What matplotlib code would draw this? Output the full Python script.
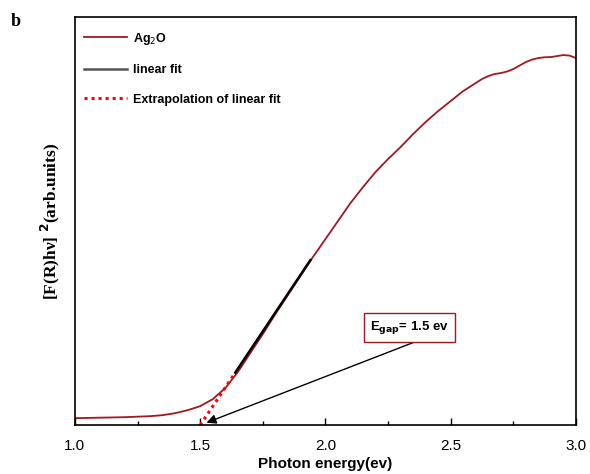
import numpy as np
import matplotlib.pyplot as plt
from matplotlib.patches import FancyArrowPatch

# Kubelka-Munk plot for Ag2O, [F(R)hv]^2 vs photon energy
energy = [1.0, 1.1, 1.2, 1.3, 1.35, 1.4, 1.45, 1.5, 1.55, 1.6, 1.65, 1.7,
          1.75, 1.8, 1.85, 1.9, 1.95, 2.0, 2.05, 2.1, 2.15, 2.2, 2.25, 2.3,
          2.35, 2.4, 2.45, 2.5, 2.55, 2.6, 2.625, 2.65, 2.675, 2.7, 2.725,
          2.75, 2.775, 2.8, 2.825, 2.85, 2.875, 2.9, 2.925, 2.95, 2.975, 3.0]
km_signal = [7, 7.5, 8, 9, 10, 12, 15, 19, 26, 37, 53, 72,
             91, 111, 130, 149, 168, 186, 204, 222, 238, 253, 266, 278,
             291, 303, 314, 324, 334, 342, 346, 349, 351, 352, 353.5,
             356, 359.5, 363, 365.5, 367, 367.8, 368, 369, 370, 369.5, 367]

e_gap = 1.5
fit_slope = 375.0
fit_range = [1.64, 1.94]
extrap_range = [e_gap, 1.64]

font = 'Liberation Sans'
serif = 'Liberation Serif'
curve_col = '#A01820'

fig = plt.figure(figsize=(5.9, 4.74), dpi=100)
ax = fig.add_axes([0.127, 0.103, 0.849, 0.861])

ax.plot(energy, km_signal, color=curve_col, lw=1.3, label='Ag$_2$O')
xf = np.array(fit_range)
ax.plot(xf, fit_slope * (xf - e_gap), color='black', lw=1.8, label='linear fit')
xe = np.array(extrap_range)
ax.plot(xe, fit_slope * (xe - e_gap), color='red', lw=2.2, ls=(0, (1, 1.3)),
        label='Extrapolation of linear fit')
handles, labels = ax.get_legend_handles_labels()

ax.set_xlim(1.0, 3.0)
ax.set_ylim(0, 408)
ax.set_xticks([1.0, 1.5, 2.0, 2.5, 3.0])
ax.set_xticks([1.25, 1.75, 2.25, 2.75], minor=True)
ax.set_yticks([])
ax.tick_params(axis='x', which='major', direction='in', length=5, width=1,
               labelsize=11, pad=10)
ax.tick_params(axis='x', which='minor', direction='in', length=3, width=1)
for lab in ax.get_xticklabels():
    lab.set_fontfamily(font)
for s in ax.spines.values():
    s.set_linewidth(1.2)

ax.set_xlabel('Photon energy(ev)', fontsize=11, fontweight='bold',
              fontfamily=font, labelpad=3)
ax.set_ylabel('[F(R)hν] $^{\\mathbf{2}}$(arb.units)', fontsize=12.5,
              fontweight='bold', fontfamily=serif, labelpad=9)

leg = ax.legend(handles, labels, loc='upper left', frameon=False,
                prop={'family': font, 'weight': 'bold', 'size': 9},
                handlelength=3.5, handletextpad=0.45, labelspacing=1.4,
                borderaxespad=0.9, borderpad=0.2,
                bbox_to_anchor=(-0.01, 1.0))
leg.get_lines()[1].set_color('#555555')

# band-gap annotation
ax.text(2.337, 98, 'E$_{\\mathbf{gap}}$= 1.5 ev', fontsize=9.5, fontweight='bold',
        fontfamily=font, ha='center', va='center',
        bbox=dict(boxstyle='square,pad=0.45', fc='white', ec=curve_col, lw=1))
arrow = FancyArrowPatch((2.365, 84), (e_gap + 0.015, 1.5), arrowstyle='-|>',
                        mutation_scale=14, color='black', lw=1)
ax.add_patch(arrow)

fig.text(0.018, 0.945, 'b', fontsize=13, fontweight='bold', fontfamily=serif)

plt.savefig('out.png', dpi=100)
plt.close()
